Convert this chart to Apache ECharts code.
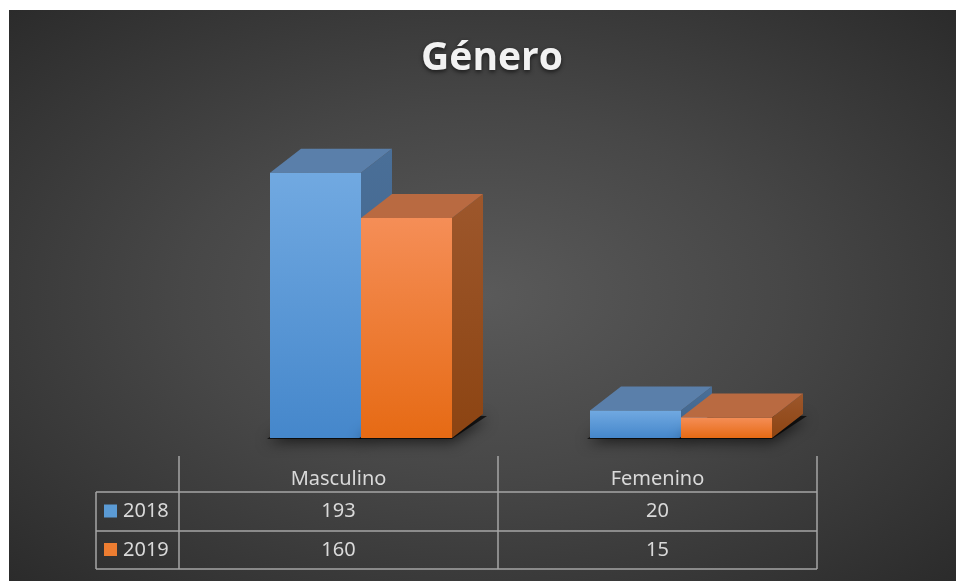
<!DOCTYPE html>
<html>
<head>
<meta charset="utf-8">
<script src="https://cdn.jsdelivr.net/npm/echarts@6/dist/echarts.min.js"></script>
<style>
  html, body { margin: 0; padding: 0; background: #fff; }
  #chart {
    position: absolute; left: 9px; top: 10px; width: 947px; height: 571px;
    background: radial-gradient(ellipse at 50% 50%, #5a5a5a 0%, #474747 45%, #2b2b2b 100%);
  }
</style>
</head>
<body>
<div id="chart"></div>
<script>
// datos
const categories = ['Masculino', 'Femenino']
const years = ['2018', '2019']
const values2018 = [193, 20]
const values2019 = [160, 15]

const chart = echarts.init(document.getElementById('chart'))

const BAR_W = 91
const DX = 31, DY = 24

const faces = {
  '2018': {
    key: '#5b9bd5',
    front: ['#71a9e1', '#4587cb'],
    top: '#5a7faa',
    side: ['#4a6f98', '#3f6288']
  },
  '2019': {
    key: '#ed7d31',
    front: ['#f58e57', '#e66a14'],
    top: '#b96a41',
    side: ['#9d572c', '#8c4412']
  }
}

function make3dItem(year, offset) {
  const c = faces[year]
  return function (params, api) {
    const center = api.coord([api.value(0), api.value(1)])
    const base = api.coord([api.value(0), 0])
    const x0 = center[0] + offset - BAR_W / 2
    const x1 = x0 + BAR_W
    const yt = center[1]
    const yb = base[1]
    return {
      type: 'group',
      children: [
        {
          type: 'polygon',
          shape: { points: [[x0 - 3, yb + 1], [x1, yb + 1], [x1 + DX + 4, yb - DY + 2], [x0 + DX, yb - DY]] },
          style: { fill: 'rgba(0,0,0,0.7)', shadowBlur: 14, shadowColor: 'rgba(0,0,0,0.9)', shadowOffsetY: 3 }
        },
        {
          type: 'polygon',
          shape: { points: [[x1, yt], [x1 + DX, yt - DY], [x1 + DX, yb - DY], [x1, yb]] },
          style: {
            fill: new echarts.graphic.LinearGradient(0, 0, 0, 1, [
              { offset: 0, color: c.side[0] }, { offset: 1, color: c.side[1] }
            ])
          }
        },
        {
          type: 'polygon',
          shape: { points: [[x0, yt], [x1, yt], [x1 + DX, yt - DY], [x0 + DX, yt - DY]] },
          style: { fill: c.top }
        },
        {
          type: 'rect',
          shape: { x: x0, y: yt, width: BAR_W, height: yb - yt },
          style: {
            fill: new echarts.graphic.LinearGradient(0, 0, 0, 1, [
              { offset: 0, color: c.front[0] }, { offset: 1, color: c.front[1] }
            ])
          }
        }
      ]
    }
  }
}

// tabla de datos
const tbl = {
  cols: [170, 489, 808],
  left: 87,
  headTop: 446,
  rows: [482, 521, 559]
}
const lineStyle = { stroke: '#a6a6a6', lineWidth: 1.5 }
const txt = { fill: '#d9d9d9', font: '20px "Noto Sans"' }
const graphics = []

tbl.cols.forEach(x => {
  graphics.push({ type: 'line', shape: { x1: x, y1: tbl.headTop, x2: x, y2: tbl.rows[2] }, style: lineStyle })
})
graphics.push({ type: 'line', shape: { x1: tbl.left, y1: tbl.rows[0], x2: tbl.left, y2: tbl.rows[2] }, style: lineStyle })
tbl.rows.forEach(y => {
  graphics.push({ type: 'line', shape: { x1: tbl.left, y1: y, x2: tbl.cols[2], y2: y }, style: lineStyle })
})
categories.forEach((cat, i) => {
  const cx = (tbl.cols[i] + tbl.cols[i + 1]) / 2
  graphics.push({ type: 'text', x: cx, y: 469, style: Object.assign({ text: cat, align: 'center', verticalAlign: 'middle' }, txt) })
  ;[values2018, values2019].forEach((vals, r) => {
    const cy = (tbl.rows[r] + tbl.rows[r + 1]) / 2
    graphics.push({ type: 'text', x: cx, y: cy, style: Object.assign({ text: String(vals[i]), align: 'center', verticalAlign: 'middle' }, txt) })
  })
})
years.forEach((y, r) => {
  const cy = (tbl.rows[r] + tbl.rows[r + 1]) / 2
  graphics.push({ type: 'rect', shape: { x: 95, y: cy - 7, width: 13, height: 13 }, style: { fill: faces[y].key } })
  graphics.push({ type: 'text', x: 114, y: cy, style: Object.assign({ text: y, align: 'left', verticalAlign: 'middle' }, txt) })
})

const option = {
  title: {
    text: 'Género',
    left: 478,
    top: 24,
    textAlign: 'center',
    textStyle: {
      color: '#f2f2f2',
      fontFamily: 'Open Sans',
      fontWeight: 'bold',
      fontSize: 39,
      textShadowColor: 'rgba(0,0,0,0.6)',
      textShadowBlur: 4,
      textShadowOffsetY: 2
    }
  },
  grid: { left: 192, right: 115, top: 153, bottom: 143 },
  xAxis: {
    type: 'category',
    data: categories,
    axisLine: { show: false },
    axisTick: { show: false },
    axisLabel: { show: false }
  },
  yAxis: {
    type: 'value',
    min: 0,
    max: 200,
    show: false
  },
  series: [
    {
      name: '2018',
      type: 'custom',
      renderItem: make3dItem('2018', -BAR_W / 2),
      data: values2018.map((v, i) => [i, v])
    },
    {
      name: '2019',
      type: 'custom',
      renderItem: make3dItem('2019', BAR_W / 2),
      data: values2019.map((v, i) => [i, v])
    }
  ],
  graphic: graphics
}

chart.setOption(option)
</script>
</body>
</html>
